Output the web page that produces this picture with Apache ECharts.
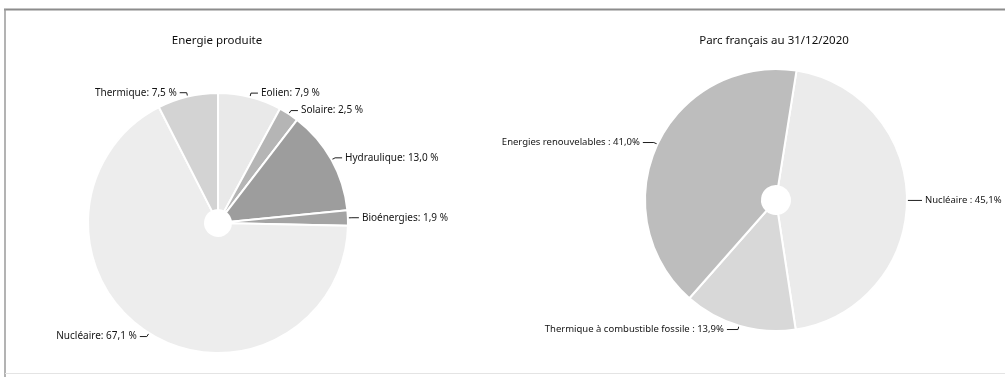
<!DOCTYPE html>
<html>
<head>
<meta charset="utf-8">
<style>
  html, body { margin: 0; padding: 0; background: #fff; }
  #chart { width: 1005px; height: 377px; }
</style>
<script src="https://cdn.jsdelivr.net/npm/echarts@6/dist/echarts.min.js"></script>
</head>
<body>
<div id="chart"></div>
<script>
// Energy produced, share per source (%)
const prodTitle = 'Energie produite';
const prodNames = ['Eolien', 'Solaire', 'Hydraulique', 'Bioénergies', 'Nucléaire', 'Thermique'];
const prodValues = [7.9, 2.5, 13.0, 1.9, 67.1, 7.5];

// French installed capacity at 31/12/2020 (%)
const parcTitle = 'Parc français au 31/12/2020';
const parcNames = ['Nucléaire', 'Thermique à combustible fossile', 'Energies renouvelables'];
const parcValues = [45.1, 13.9, 41.0];

// Grey shades for the slices
const prodColors = ['#e9e9e9', '#b5b5b5', '#9d9d9d', '#a4a4a4', '#ededed', '#d3d3d3'];
const parcColors = ['#ebebeb', '#d8d8d8', '#bdbdbd'];

const FONT = '"Noto Sans", "Open Sans", sans-serif';
const fr = v => v.toFixed(1).replace('.', ',');

const chart = echarts.init(document.getElementById('chart'), null, { renderer: 'canvas' });

function pieData(names, values, colors) {
  return names.map((n, i) => ({ name: n, value: values[i], itemStyle: { color: colors[i] } }));
}

const labelBase = {
  show: true,
  position: 'outside',
  color: '#141414',
  fontFamily: FONT,
  fontSize: 10,
  overflow: 'none',
  distanceToLabelLine: 3
};

const titleStyle = { fontFamily: FONT, fontSize: 11.5, fontWeight: 'normal', color: '#0f0f0f' };

chart.setOption({
  animation: false,
  backgroundColor: '#ffffff',
  title: [
    { text: prodTitle, left: 217, top: 35, textAlign: 'center', padding: 0, textStyle: titleStyle },
    { text: parcTitle, left: 774, top: 35, textAlign: 'center', padding: 0, textStyle: titleStyle }
  ],
  graphic: [
    { type: 'line', shape: { x1: 4, y1: 9.5, x2: 1005, y2: 9.5 }, style: { stroke: '#8c8c8c', lineWidth: 2 } },
    { type: 'line', shape: { x1: 5, y1: 9, x2: 5, y2: 377 }, style: { stroke: '#9a9a9a', lineWidth: 1.5 } },
    { type: 'line', shape: { x1: 5, y1: 373.5, x2: 1005, y2: 373.5 }, style: { stroke: '#e4e4e4', lineWidth: 1 } }
  ],
  series: [
    {
      type: 'pie',
      center: [218, 223],
      radius: [13, 130],
      startAngle: 90,
      clockwise: true,
      avoidLabelOverlap: true,
      itemStyle: { borderColor: '#ffffff', borderWidth: 2 },
      label: Object.assign({}, labelBase, {
        formatter: p => p.name + ': ' + fr(p.value) + ' %'
      }),
      labelLine: { show: true, length: 4, length2: 7, lineStyle: { color: '#1e1e1e', width: 1 } },
      emphasis: { disabled: true },
      data: pieData(prodNames, prodValues, prodColors)
    },
    {
      type: 'pie',
      center: [776, 200],
      radius: [14, 131],
      startAngle: 81,
      clockwise: true,
      avoidLabelOverlap: true,
      itemStyle: { borderColor: '#ffffff', borderWidth: 2 },
      label: Object.assign({}, labelBase, {
        fontSize: 9.5,
        formatter: p => p.name + ' : ' + fr(p.value) + '%'
      }),
      labelLine: { show: true, length: 4, length2: 11, lineStyle: { color: '#1e1e1e', width: 1 } },
      emphasis: { disabled: true },
      data: pieData(parcNames, parcValues, parcColors)
    }
  ]
});
</script>
</body>
</html>
